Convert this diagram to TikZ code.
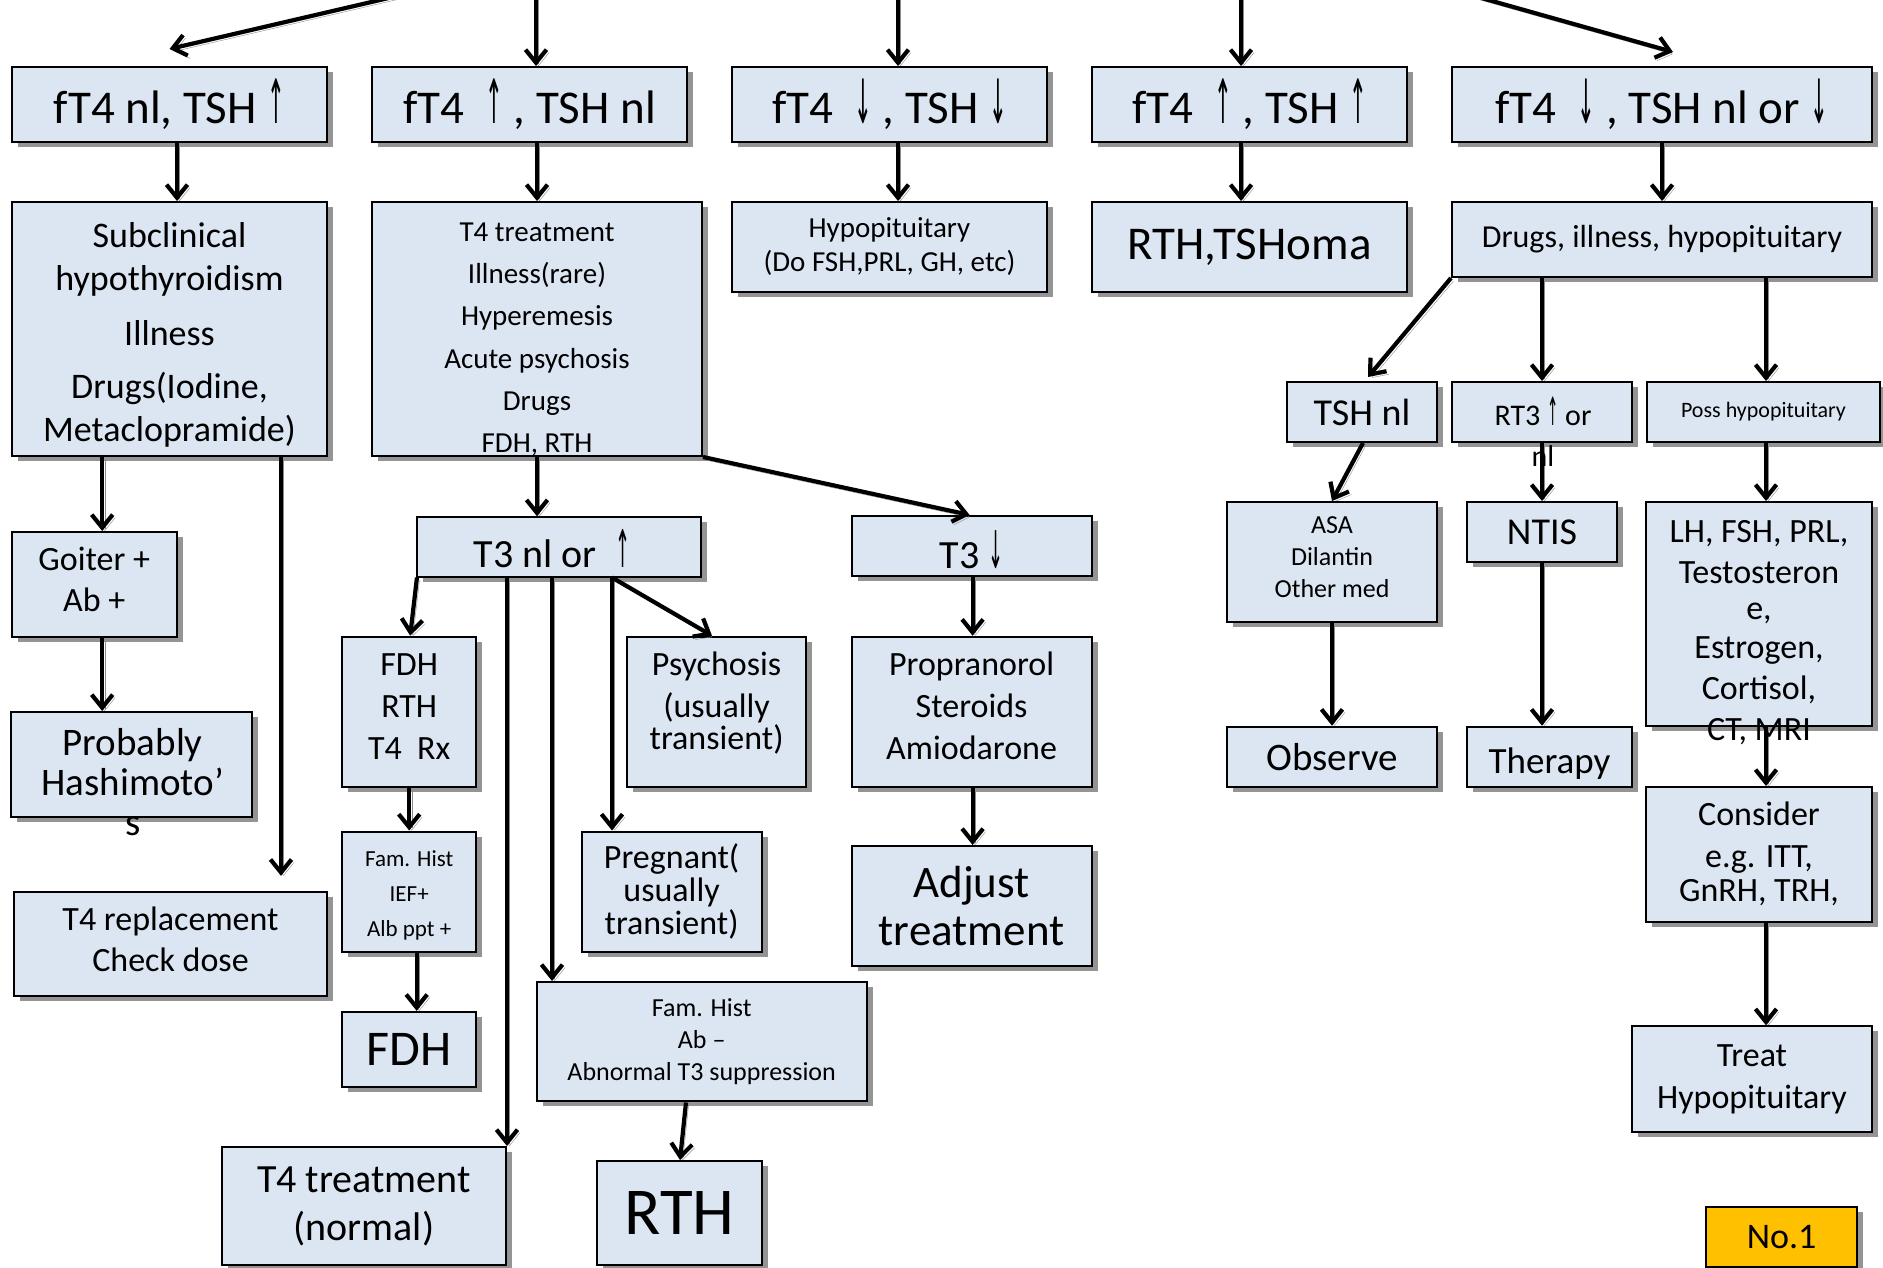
\documentclass[tikz,border=0pt]{standalone}
\usepackage{fontspec}
\setmainfont{Carlito}
\newfontfamily\arrowfont{DejaVu Sans}
\usepackage{graphicx}
\usetikzlibrary{arrows.meta,shadows,calc}
\definecolor{boxfill}{HTML}{DCE6F2}
\definecolor{gold}{HTML}{FFC000}
\newcommand{\fs}[2]{\fontsize{#1}{#2}\selectfont}
\newcommand{\up}{{\arrowfont\scalebox{0.45}[1.3]{↑}}}
\newcommand{\dn}{{\arrowfont\scalebox{0.45}[1.3]{↓}}}
\begin{document}
\begin{tikzpicture}[x=1pt,y=-1pt,
  bx/.style={draw=black, line width=2pt, fill=boxfill, inner sep=0pt, align=center,
    drop shadow={shadow xshift=6pt, shadow yshift=-5pt, fill=black!42, opacity=1}},
  tx/.style={align=center, inner sep=0pt},
  arr/.style={line width=4.2pt, -{Straight Barb[length=13pt,width=21pt]},
    preaction={draw=black!45, transform canvas={shift={(2.5pt,-3pt)}}}},
]
\fill[white] (0,0) rectangle (1883,1268);
\useasboundingbox (0,0) rectangle (1883,1268);

% top row
\node[bx, minimum width=315, minimum height=75, font=\fs{47}{56}] (A1) at (169.5,104.5) {fT4 nl, TSH \up};
\node[bx, minimum width=315, minimum height=75, font=\fs{47}{56}] (A2) at (529.5,104.5) {fT4~~\up~, TSH nl};
\node[bx, minimum width=315, minimum height=75, font=\fs{47}{56}] (A3) at (889.5,104.5) {fT4~~\dn~, TSH \dn};
\node[bx, minimum width=315, minimum height=75, font=\fs{47}{56}] (A4) at (1249.5,104.5) {fT4~~\up~, TSH \up};
\node[bx, minimum width=420, minimum height=75, font=\fs{47}{56}] (A5) at (1662,104.5) {fT4~~\dn~, TSH nl or \dn};

% second row
\node[bx, minimum width=315, minimum height=254] (B1) at (169.5,329) {};
\node[bx, minimum width=330, minimum height=254] (B2) at (537,329) {};
\node[bx, minimum width=315, minimum height=90, font=\fs{29}{34}] (B3) at (889.5,247) {Hypopituitary\\(Do FSH,PRL, GH, etc)};
\node[bx, minimum width=315, minimum height=90, font=\fs{47}{56}] (B4) at (1249.5,247) {RTH,TSHoma};
\node[bx, minimum width=420, minimum height=75, font=\fs{32}{38}] (B5) at (1662,239.5) {Drugs, illness, hypopituitary};

% right branch
\node[bx, minimum width=150, minimum height=60, font=\fs{38}{45}] (TSHnl) at (1362,412) {TSH nl};
\node[bx, minimum width=180, minimum height=60] (RT3) at (1542,412) {};
\node[bx, minimum width=233, minimum height=60, font=\fs{22}{26}] (Poss) at (1763.5,412) {Poss hypopituitary};
\node[bx, minimum width=210, minimum height=120] (ASA) at (1332,562) {};
\node[bx, minimum width=150, minimum height=60, font=\fs{38}{45}] (NTIS) at (1542,532) {NTIS};
\node[bx, minimum width=226, minimum height=224] (LH) at (1759,614) {};
\node[bx, minimum width=210, minimum height=60, font=\fs{39}{46}] (Observe) at (1332,756.7) {Observe};
\node[bx, minimum width=165, minimum height=60] (Therapy) at (1549.5,756.7) {};
\node[bx, minimum width=226, minimum height=134.6, font=\fs{34}{42}] (Consider) at (1759,854.3) {Consider\\e.g. ITT,\\[-8pt]GnRH, TRH,};
\node[bx, minimum width=240, minimum height=105.4, font=\fs{34}{42}] (Treat) at (1752,1079) {Treat\\Hypopituitary};
\node[bx, fill=gold, minimum width=150.5, minimum height=60, font=\fs{36}{43}] (No1) at (1781.7,1237) {No.1};

% T3 down branch
\node[bx, minimum width=240, minimum height=60.5] (T3down) at (971.6,546.2) {};
\node[bx, minimum width=240, minimum height=150] (Prop) at (971.6,711.7) {};
\node[bx, minimum width=240, minimum height=120, font=\fs{45}{48}] (Adjust) at (971.6,906) {Adjust\\treatment};

% left branch
\node[bx, minimum width=165.3, minimum height=104.8] (Goiter) at (94.2,584.4) {};
\node[bx, minimum width=240.5, minimum height=104.6] (Probably) at (131.7,764.3) {};
\node[bx, minimum width=312.2, minimum height=104.6] (T4rep) at (170.5,944.1) {};

% T3 nl branch
\node[bx, minimum width=284.7, minimum height=59.3] (T3nl) at (559,546.9) {};
\node[bx, minimum width=134.4, minimum height=150] (FDHb) at (409.2,711.7) {};
\node[bx, minimum width=179.7, minimum height=150] (Psych) at (716.6,711.7) {};
\node[bx, minimum width=134.4, minimum height=120] (IEF) at (409.2,891.5) {};
\node[bx, minimum width=180.2, minimum height=120, font=\fs{34}{33}] (Preg) at (671.6,891.5) {Pregnant(\\usually\\transient)};
\node[bx, minimum width=134.4, minimum height=74.7, font=\fs{50}{60}] (FDH) at (409.2,1049.2) {FDH};
\node[bx, minimum width=330, minimum height=119.5, font=\fs{26}{32}] (FamAb) at (701.7,1041.7) {Fam. Hist\\Ab –\\Abnormal T3 suppression};
\node[bx, minimum width=284, minimum height=118, font=\fs{40}{48}] (T4norm) at (364,1206) {T4 treatment\\(normal)};
\node[bx, minimum width=164.7, minimum height=104, font=\fs{67}{80}] (RTH) at (679.4,1213) {RTH};

% texts placed apart from their boxes
\node[tx, font=\fs{36}{43}] (B1t) at (169.5,335) {Subclinical\\hypothyroidism\\[12pt]Illness\\[10pt]Drugs(Iodine,\\Metaclopramide)};
\node[tx, font=\fs{29}{42.3}] (B2t) at (537,339.6) {T4 treatment\\Illness(rare)\\Hyperemesis\\Acute psychosis\\Drugs\\FDH, RTH};
\node[tx, font=\fs{26}{31.7}] (ASAt) at (1332,557) {ASA\\Dilantin\\Other med};
\node[tx, font=\fs{37}{44}] (Therapyt) at (1549.5,763.7) {Therapy};
\node[tx, font=\fs{40}{48}] (T3downt) at (971.6,550) {T3 \dn};
\node[tx, font=\fs{34}{42}] (Propt) at (971.6,705.7) {Propranorol\\Steroids\\Amiodarone};
\node[tx, font=\fs{34}{41}] (Goitert) at (94.2,579.4) {Goiter +\\Ab +};
\node[tx, font=\fs{39}{40}] (Probt) at (132.7,782) {Probably\\Hashimoto’\\s};
\node[tx, font=\fs{34}{41}] (T4rept) at (170.5,939.1) {T4 replacement\\Check dose};
\node[tx, font=\fs{40}{48}] (T3nlt) at (552,549) {T3 nl or~~\up};
\node[tx, font=\fs{34}{42}] (FDHbt) at (409.2,706.7) {FDH\\RTH\\T4~~Rx};
\node[tx, font=\fs{34}{42}] (Psycht) at (716.6,702.7) {Psychosis\\(usually\\[-10pt]transient)};
\node[tx, font=\fs{23}{35}] (IEFt) at (409.2,895.1) {Fam. Hist\\IEF+\\Alb ppt +};

% incoming arrows at the top
\coordinate (in1) at (423,-10);
\coordinate (in2) at (536,-10);
\coordinate (in3) at (898,-10);
\coordinate (in4) at (1241,-10);
\coordinate (in5) at (1453,-10);
\draw[arr] (in1) -- ([yshift=17pt]A1.north);
\draw[arr] (in2) -- (in2 |- A2.north);
\draw[arr] (in3) -- (in3 |- A3.north);
\draw[arr] (in4) -- (in4 |- A4.north);
\draw[arr] (in5) -- ([xshift=11pt,yshift=14pt]A5.north);

% row 1 to row 2
\draw[arr] ([xshift=7.5pt]A1.south) -- ([xshift=7.5pt]B1.north);
\draw[arr] ([xshift=7.5pt]A2.south) -- (B2.north);
\draw[arr] ([xshift=8.5pt]A3.south) -- ([xshift=8.5pt]B3.north);
\draw[arr] ([xshift=-8.5pt]A4.south) -- ([xshift=-8.5pt]B4.north);
\draw[arr] (A5.south) -- (B5.north);

% right branch
\draw[arr] (B5.south west) -- ([xshift=6pt,yshift=4pt]TSHnl.north);
\draw[arr] (B5.south -| RT3.north) -- (RT3.north);
\coordinate (pPoss) at ([xshift=2.5pt]Poss.north);
\draw[arr] (B5.south -| pPoss) -- (pPoss);
\draw[arr] ([xshift=1pt]TSHnl.south) -- (ASA.north);
\draw[arr] (RT3.south) -- (NTIS.north);
\coordinate (pLH) at ([xshift=7pt]LH.north);
\draw[arr] (Poss.south -| pLH) -- (pLH);
\draw[arr] ([xshift=7pt]LH.south) -- ([xshift=7pt]Consider.north);
\coordinate (pCs) at ([xshift=7pt]Consider.south);
\draw[arr] (pCs) -- (pCs |- Treat.north);
\draw[arr] (ASA.south) -- (Observe.north);
\draw[arr] (NTIS.south) -- (NTIS.south |- Therapy.north);

% left branch
\coordinate (gN) at ([xshift=8pt]Goiter.north);
\draw[arr] (gN |- B1.south) -- (gN);
\coordinate (gS) at ([xshift=8pt]Goiter.south);
\draw[arr] (gS) -- (gS |- Probably.north);
\draw[arr] ([xshift=111.5pt]B1.south) -- ([xshift=110.5pt,yshift=15pt]T4rep.north);

% from B2
\draw[arr] (B2.south) -- (B2.south |- T3nl.north);
\draw[arr] (B2.south east) -- ([xshift=-2pt]T3down.north);
\draw[arr] ([xshift=1pt]T3down.south) -- ([xshift=1pt]Prop.north);
\draw[arr] ([xshift=1pt]Prop.south) -- ([xshift=1pt]Adjust.north);

% from T3 nl
\draw[arr] ([xshift=1.3pt]T3nl.south west) -- ([xshift=1pt]FDHb.north);
\draw[arr] (T4norm.north east |- T3nl.south) -- (T4norm.north east);
\coordinate (pFam) at ([xshift=-149.7pt]FamAb.north);
\draw[arr] (pFam |- T3nl.south) -- (pFam);
\coordinate (pPreg) at ([xshift=-59.6pt]Preg.north);
\draw[arr] (pPreg |- T3nl.south) -- (pPreg);
\draw[arr] (pPreg |- T3nl.south) -- ([xshift=-4.6pt]Psych.north);
\draw[arr] (FDHb.south) -- (IEF.north);
\draw[arr] ([xshift=7.5pt]IEF.south) -- ([xshift=7.5pt]FDH.north);
\draw[arr] ([xshift=-15.7pt]FamAb.south) -- ([xshift=0.6pt]RTH.north);

% overflowing texts on top
\node[tx, font=\fs{30}{41}] (RT3t) at (1543,432) {RT3 \up{} or\\nl};
\node[tx, font=\fs{34}{41}] (LHt) at (1759,633) {LH, FSH, PRL,\\Testosteron\\[-5pt]e,\\[-2pt]Estrogen,\\Cortisol,\\CT, MRI};
\end{tikzpicture}
\end{document}
